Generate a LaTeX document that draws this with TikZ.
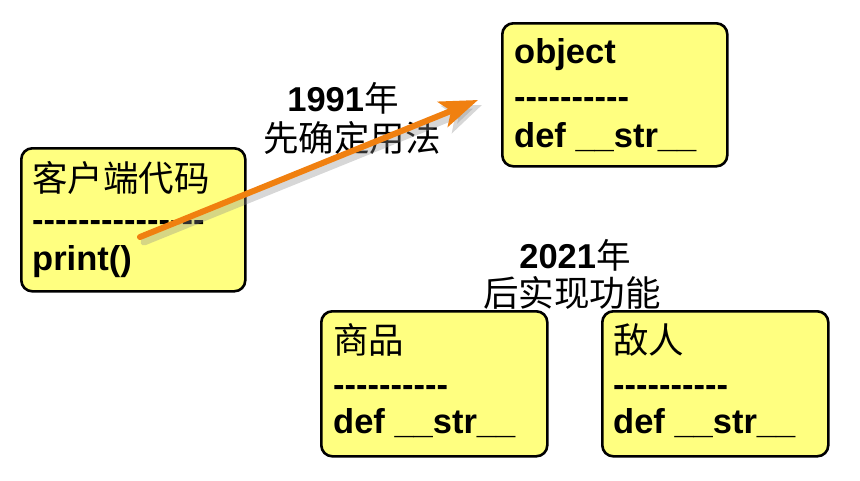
\documentclass[tikz,border=0pt]{standalone}
\usepackage{fontspec}
\setmainfont{Liberation Sans}
\newfontfamily\cjk{Noto Sans CJK SC}
\usetikzlibrary{arrows.meta}
\definecolor{boxyellow}{RGB}{255,255,128}
\definecolor{arroworange}{RGB}{240,128,16}
\newcommand\hy{-\kern0pt}
\newcommand\tendash{\hy\hy\hy\hy\hy\hy\hy\hy\hy\hy}
\tikzset{
  umlbox/.style={draw=black, line width=2.6pt, rounded corners=11pt, fill=boxyellow, anchor=north west, inner sep=0pt},
  bt/.style={font=\fontsize{34.5}{40}\selectfont\bfseries, anchor=base west, inner sep=0pt},
  ct/.style={font=\fontsize{35.5}{40}\selectfont\cjk, anchor=base west, inner sep=0pt},
  lbl/.style={font=\fontsize{34.5}{40}\selectfont, anchor=base, inner sep=0pt},
  lblc/.style={font=\fontsize{35.5}{40}\selectfont\cjk, anchor=base, inner sep=0pt},
  arr/.style={line width=6pt, arroworange, line cap=round, -{Stealth[length=38pt,width=27pt,inset=9pt]}},
  arrshadow/.style={line width=7pt, black!45, opacity=0.35, line cap=round, -{Stealth[length=38pt,width=29pt,inset=9pt]}}
}
\begin{document}
\begin{tikzpicture}[x=1pt,y=-1pt]
\useasboundingbox (0,0) rectangle (860,480);
% boxes
\node[umlbox, minimum width=224pt, minimum height=143pt] (client) at (20,147) {};
\node[umlbox, minimum width=225pt, minimum height=143pt] (object) at (501,22) {};
\node[umlbox, minimum width=226pt, minimum height=145pt] (goods) at (320,310) {};
\node[umlbox, minimum width=226pt, minimum height=145pt] (enemy) at (601,310) {};
% client box texts
\node[bt] (c2) at (32,231) {\tendash\hy\hy\hy\hy\hy};
\node[ct] (c1) at (32,191) {客户端代码};
\node[bt] (c3) at (32,270) {print()};
% object box texts
\node[bt] (o1) at (514,63) {object};
\node[bt] (o2) at (514,108) {\tendash};
\node[bt] (o3) at (514,147) {def \_\_str\_\_};
% goods box
\node[ct] (g1) at (333,353) {商品};
\node[bt] (g2) at (333,396) {\tendash};
\node[bt] (g3) at (333,433) {def \_\_str\_\_};
% enemy box
\node[ct] (e1) at (613,353) {敌人};
\node[bt] (e2) at (613,396) {\tendash};
\node[bt] (e3) at (613,433) {def \_\_str\_\_};
% labels
\node[lbl] (l1) at (343,111) {\textbf{1991}{\cjk 年}};
\node[lblc] (l2) at (352,151) {先确定用法};
\node[lbl] (l3) at (575,268) {\textbf{2021}{\cjk 年}};
\node[lblc] (l4) at (572,306) {后实现功能};
% arrow
\coordinate (as) at (140,237);
\coordinate (ae) at (478,100);
\coordinate (ass) at (144,242);
\coordinate (aes) at (482,105);
\draw[arrshadow] (ass) -- (aes);
\draw[arr] (as) -- (ae);
\end{tikzpicture}
\end{document}
